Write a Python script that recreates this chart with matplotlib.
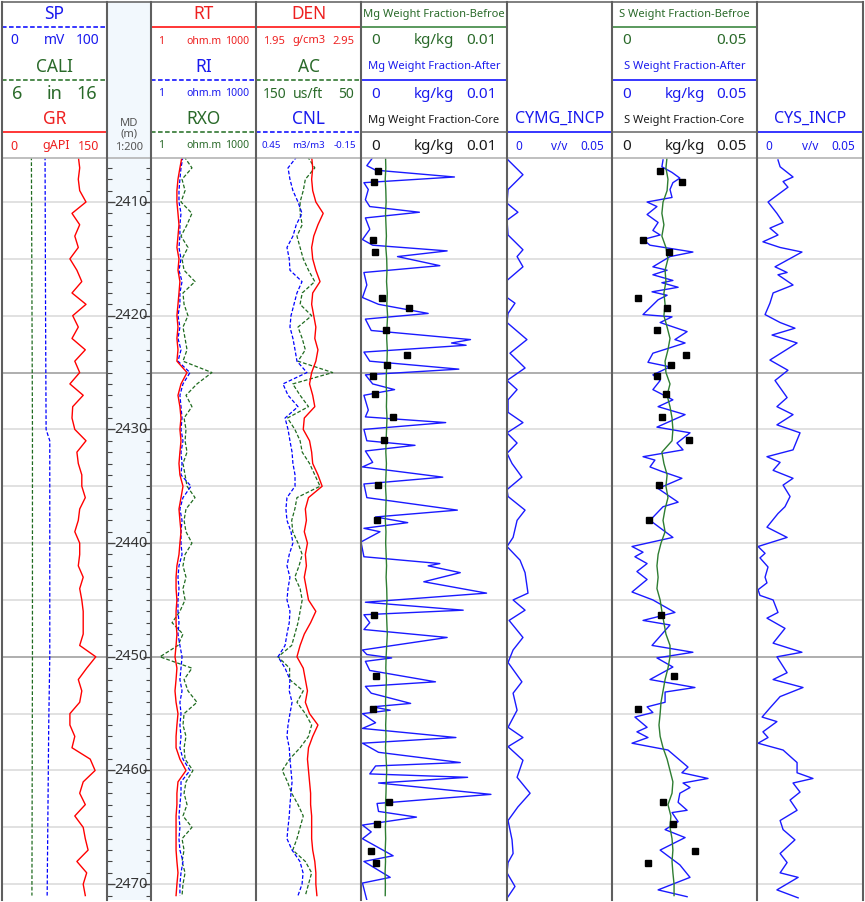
import numpy as np
import matplotlib
matplotlib.use("Agg")
import matplotlib.pyplot as plt
from matplotlib.patches import Rectangle
from matplotlib.ticker import MultipleLocator

plt.rcParams['font.family'] = ['Noto Sans', 'DejaVu Sans']

# ---------------- data (read off the log) ----------------
# 1 m sampled curves
depth_1m = np.arange(2406, 2472)

gr = [109, 111, 109, 111, 120, 100, 111, 104, 109, 97,
      107, 114, 100, 120, 101, 109, 100, 119, 104, 111,
      97, 116, 101, 100, 104, 120, 107, 109, 114, 114,
      119, 111, 109, 104, 111, 111, 109, 116, 111, 114,
      116, 116, 116, 111, 134, 121, 109, 114, 111, 97,
      97, 104, 100, 126, 133, 116, 111, 119, 104, 116,
      119, 123, 107, 121, 116, 119]

rt = [7.7, 6.7, 5.9, 5.5, 5.5, 5.9, 6.3, 5.9, 5.5, 6.3,
      5.9, 6.7, 6.3, 5.9, 5.5, 5.9, 5.5, 5.9, 5.5, 10.7,
      7.2, 5.9, 6.7, 7.2, 6.7, 7.2, 6.7, 6.3, 6.7, 8.2,
      7.2, 6.3, 6.7, 7.2, 6.7, 6.3, 5.5, 5.2, 5.2, 5.5,
      5.2, 5.2, 5.5, 5.2, 4.85, 5.5, 5.2, 4.85, 5.2, 5.9,
      5.5, 5.2, 5.2, 6.7, 10.0, 5.9, 5.5, 5.5, 5.2, 5.2,
      5.2, 5.2, 5.5, 5.9, 5.5, 5.2]

ri = [8.2, 7.2, 6.7, 6.3, 6.3, 7.2, 6.7, 6.7, 6.3, 7.2,
      6.3, 7.7, 6.7, 6.7, 5.9, 6.7, 5.9, 7.2, 5.9, 13.0,
      8.2, 6.7, 7.2, 7.7, 7.2, 8.2, 7.2, 7.7, 7.2, 13.9,
      8.2, 6.7, 7.7, 7.2, 7.2, 7.7, 6.3, 5.9, 6.3, 5.9,
      5.9, 6.3, 5.9, 6.7, 7.7, 7.2, 6.7, 7.7, 6.7, 7.2,
      6.7, 7.2, 6.7, 8.2, 13.0, 7.2, 7.2, 6.7, 6.3, 6.7,
      6.3, 6.7, 8.2, 7.2, 6.7, 6.7]

rxo = [8.8, 14.8, 7.7, 9.4, 7.2, 14.8, 10.7, 7.2, 11.4, 7.7,
       8.8, 18.1, 8.2, 8.8, 11.4, 8.2, 9.4, 10.7, 8.2, 55,
       20.6, 10, 14.8, 8.8, 10, 9.4, 10.7, 8.2, 9.4, 10.7,
       18.1, 10, 8.8, 10, 14.8, 9.4, 8.2, 10, 8.2, 9.4,
       6.7, 4.0, 8.2, 5.9, 1.8, 14.8, 8.8, 11.4, 20.6, 8.8,
       8.2, 10, 8.8, 9.4, 15.8, 10, 8.8, 10.7, 8.2, 14.8,
       7.7, 8.8, 7.7, 9.4, 8.2, 7.7]

den = [2.48, 2.49, 2.48, 2.49, 2.52, 2.59, 2.54, 2.50, 2.48, 2.49,
       2.52, 2.56, 2.49, 2.48, 2.50, 2.52, 2.51, 2.54, 2.52, 2.48,
       2.46, 2.49, 2.51, 2.41, 2.40, 2.46, 2.48, 2.49, 2.54, 2.58,
       2.45, 2.42, 2.43, 2.41, 2.44, 2.42, 2.43, 2.41, 2.43, 2.45,
       2.52, 2.47, 2.41, 2.37, 2.34, 2.40, 2.42, 2.44, 2.42, 2.46,
       2.54, 2.49, 2.45, 2.44, 2.45, 2.46, 2.47, 2.47, 2.48, 2.48,
       2.48, 2.49, 2.51, 2.52, 2.52, 2.53]

ac = [101, 94, 103, 105, 108, 108, 106, 111, 108, 105,
      100, 94, 106, 108, 97, 110, 106, 103, 110, 77,
      115, 108, 100, 120, 113, 108, 106, 99, 94, 89,
      111, 113, 116, 115, 110, 106, 109, 113, 108, 106,
      108, 110, 113, 116, 129, 118, 118, 105, 111, 103,
      97, 100, 108, 118, 125, 120, 116, 110, 105, 108,
      111, 115, 103, 97, 100, 103]

cnl = [0.216, 0.267, 0.256, 0.239, 0.21, 0.187, 0.22, 0.239, 0.273, 0.26,
       0.256, 0.187, 0.216, 0.233, 0.25, 0.256, 0.239, 0.227, 0.216, 0.159,
       0.296, 0.267, 0.21, 0.284, 0.267, 0.256, 0.244, 0.239, 0.227, 0.227,
       0.273, 0.279, 0.273, 0.25, 0.239, 0.26, 0.273, 0.256, 0.267, 0.273,
       0.256, 0.26, 0.273, 0.284, 0.324, 0.284, 0.256, 0.26, 0.244, 0.256,
       0.267, 0.273, 0.26, 0.256, 0.25, 0.244, 0.25, 0.256, 0.26, 0.267,
       0.273, 0.244, 0.199, 0.181, 0.187, 0.21]

mg_before = [0.00168, 0.00170, 0.00166, 0.00170, 0.00172, 0.00168, 0.00171, 0.00174, 0.00170, 0.00176,
             0.00178, 0.00175, 0.00180, 0.00177, 0.00182, 0.00178, 0.00176, 0.00180, 0.00178, 0.00174,
             0.00172, 0.00176, 0.00174, 0.00178, 0.00175, 0.00172, 0.00170, 0.00174, 0.00171, 0.00168,
             0.00172, 0.00170, 0.00167, 0.00171, 0.00169, 0.00172, 0.00175, 0.00172, 0.00176, 0.00178,
             0.00174, 0.00177, 0.00180, 0.00176, 0.00172, 0.00170, 0.00174, 0.00171, 0.00168, 0.00172,
             0.00169, 0.00171, 0.00168, 0.00172, 0.00176, 0.00173, 0.00171, 0.00168, 0.00170, 0.00167,
             0.00169, 0.00166, 0.00168, 0.00165, 0.00167, 0.00166]

s_before = [0.0190, 0.0186, 0.0193, 0.0190, 0.0176, 0.0172, 0.0179, 0.0172, 0.0186, 0.0193,
            0.0183, 0.0186, 0.0179, 0.0183, 0.0179, 0.0190, 0.0200, 0.0193, 0.0183, 0.0186,
            0.0200, 0.0190, 0.0200, 0.0207, 0.0210, 0.0207, 0.0172, 0.0179, 0.0190, 0.0186,
            0.0193, 0.0183, 0.0176, 0.0183, 0.0169, 0.0159, 0.0155, 0.0159, 0.0155, 0.0166,
            0.0172, 0.0179, 0.0186, 0.0200, 0.0200, 0.0193, 0.0183, 0.0176, 0.0169, 0.0166,
            0.0162, 0.0166, 0.0176, 0.0190, 0.0200, 0.0210, 0.0207, 0.0193, 0.0203, 0.0200,
            0.0207, 0.0210, 0.0207, 0.0210, 0.0214, 0.0214]

# slow curves
sp_depth = [2406, 2420, 2430, 2431, 2440, 2450, 2456, 2471]
sp = [41, 41.5, 42, 45.5, 45.5, 45.5, 44.5, 43]
cali_depth = [2406, 2430, 2450, 2471]
cali = [8.8, 8.9, 8.9, 8.85]

# spiky curves, irregular depths
mg_after_depth = [2406.1, 2406.8, 2407.2, 2407.8, 2408.3, 2408.9, 2409.8, 2410.4, 2410.9, 2411.4,
                  2412.4, 2413.3, 2413.8, 2414.3, 2414.8, 2415.6, 2416.2, 2417.3, 2418.4, 2419.0,
                  2419.8, 2420.3, 2421.3, 2422.1, 2422.4, 2422.6, 2423.2, 2424.0, 2424.7, 2425.2,
                  2426.0, 2426.5, 2427.0, 2428.3, 2428.9, 2429.4, 2430.0, 2431.0, 2431.4, 2431.9,
                  2432.9, 2433.3, 2434.2, 2434.8, 2436.0, 2437.1, 2437.7, 2438.2, 2438.7, 2439.0,
                  2439.9, 2441.2, 2441.8, 2442.0, 2442.6, 2443.4, 2444.4, 2445.2, 2445.9, 2446.3,
                  2447.0, 2447.6, 2448.3, 2449.4, 2449.8, 2450.1, 2450.4, 2451.2, 2452.2, 2452.6,
                  2453.2, 2454.1, 2454.4, 2454.7, 2455.0, 2455.8, 2456.3, 2457.1, 2457.6, 2458.4,
                  2459.3, 2459.6, 2460.3, 2460.6, 2461.1, 2462.1, 2462.9, 2463.6, 2464.1, 2464.8,
                  2465.4, 2466.0, 2467.5, 2468.0, 2469.4, 2469.9, 2471.4]
mg_after = [0.0008, 0.0004, 0.0010, 0.0064, 0.0002, 0.0005, 0.0003, 0.0006, 0.0040, 0.0003,
            0.0006, 0.0001, 0.0008, 0.0059, 0.0025, 0.0054, 0.0002, 0.0004, 0.0001, 0.0012,
            0.0046, 0.0003, 0.0007, 0.0075, 0.0062, 0.0072, 0.0002, 0.0006, 0.0067, 0.0003,
            0.0008, 0.0023, 0.0002, 0.0005, 0.0003, 0.0058, 0.0002, 0.0004, 0.0037, 0.0003,
            0.0008, 0.0001, 0.0056, 0.0002, 0.0004, 0.0066, 0.0010, 0.0032, 0.0002, 0.0013,
            0.0000, 0.0002, 0.0054, 0.0046, 0.0068, 0.0043, 0.0086, 0.0003, 0.0070, 0.0002,
            0.0006, 0.0002, 0.0059, 0.0001, 0.0004, 0.0021, 0.0003, 0.0006, 0.0051, 0.0003,
            0.0007, 0.0034, 0.0008, 0.0020, 0.0001, 0.0010, 0.0001, 0.0065, 0.0001, 0.0012,
            0.0068, 0.0010, 0.0006, 0.0073, 0.0012, 0.0089, 0.0011, 0.0012, 0.0038, 0.0001,
            0.0007, 0.0001, 0.0022, 0.0002, 0.0020, 0.0001, 0.0004]

s_after_depth = [2406.3, 2406.9, 2407.4, 2407.9, 2408.3, 2408.9, 2409.6, 2410.0, 2410.4, 2411.1,
                 2411.8, 2412.5, 2412.9, 2413.3, 2413.8, 2414.4, 2414.8, 2415.7, 2416.0, 2416.4,
                 2416.9, 2417.1, 2417.5, 2417.9, 2418.2, 2418.6, 2419.9, 2420.1, 2420.6, 2421.4,
                 2422.1, 2422.4, 2423.3, 2424.1, 2424.5, 2425.2, 2425.7, 2426.5, 2427.4, 2428.0,
                 2428.7, 2429.8, 2430.3, 2431.2, 2431.8, 2432.4, 2432.7, 2433.3, 2433.7, 2434.3,
                 2435.2, 2436.4, 2436.8, 2438.0, 2439.5, 2440.3, 2440.8, 2441.2, 2441.8, 2442.5,
                 2443.2, 2444.3, 2445.0, 2446.1, 2446.8, 2447.2, 2449.0, 2449.6, 2450.1, 2450.9,
                 2452.0, 2452.7, 2453.1, 2454.0, 2454.4, 2454.9, 2455.3, 2456.2, 2456.6, 2457.1,
                 2457.6, 2458.2, 2459.7, 2460.2, 2460.7, 2461.1, 2461.5, 2462.0, 2462.8, 2463.5,
                 2463.7, 2464.5, 2465.2, 2465.9, 2467.0, 2468.3, 2469.4, 2470.5, 2471.1]
s_after = [0.0176, 0.0172, 0.0207, 0.0234, 0.0210, 0.0200, 0.0207, 0.0121, 0.0155, 0.0121,
           0.0159, 0.0141, 0.0166, 0.0107, 0.0131, 0.0279, 0.0200, 0.0141, 0.0190, 0.0141,
           0.0210, 0.0172, 0.0228, 0.0138, 0.0190, 0.0159, 0.0107, 0.0207, 0.0166, 0.0259,
           0.0217, 0.0252, 0.0141, 0.0124, 0.0200, 0.0141, 0.0166, 0.0141, 0.0210, 0.0159,
           0.0252, 0.0155, 0.0269, 0.0224, 0.0245, 0.0107, 0.0148, 0.0131, 0.0172, 0.0241,
           0.0159, 0.0228, 0.0176, 0.0131, 0.0210, 0.0069, 0.0107, 0.0079, 0.0121, 0.0086,
           0.0121, 0.0069, 0.0141, 0.0217, 0.0107, 0.0200, 0.0138, 0.0279, 0.0155, 0.0210,
           0.0131, 0.0286, 0.0183, 0.0183, 0.0121, 0.0141, 0.0079, 0.0121, 0.0086, 0.0124,
           0.0069, 0.0193, 0.0262, 0.0241, 0.0331, 0.0245, 0.0269, 0.0234, 0.0228, 0.0259,
           0.0207, 0.0228, 0.0183, 0.0252, 0.0166, 0.0234, 0.0269, 0.0159, 0.0259]

cymg_depth = [2406.3, 2407.6, 2408.9, 2410.1, 2410.9, 2411.6, 2412.9, 2414.2, 2414.8, 2415.7,
              2416.9, 2418.4, 2418.9, 2419.8, 2420.6, 2422.1, 2423.3, 2424.6, 2425.7, 2426.5,
              2427.4, 2428.5, 2429.4, 2430.3, 2431.2, 2432.1, 2433.0, 2434.2, 2435.3, 2435.9,
              2437.1, 2438.0, 2439.5, 2440.3, 2441.5, 2442.6, 2444.4, 2445.0, 2445.9, 2446.8,
              2448.3, 2449.4, 2450.5, 2452.2, 2453.2, 2454.7, 2456.2, 2457.1, 2457.9, 2459.1,
              2460.6, 2462.0, 2463.2, 2464.4, 2466.1, 2467.3, 2468.1, 2469.0, 2470.2, 2471.1]
cymg = [0.0005, 0.0076, 0.0005, 0.0000, 0.0052, 0.0000, 0.0005, 0.0076, 0.0048, 0.0076,
        0.0000, 0.0000, 0.0038, 0.0005, 0.0000, 0.0095, 0.0014, 0.0086, 0.0000, 0.0048,
        0.0005, 0.0005, 0.0076, 0.0000, 0.0048, 0.0000, 0.0024, 0.0071, 0.0000, 0.0005,
        0.0086, 0.0048, 0.0029, 0.0000, 0.0062, 0.0086, 0.0100, 0.0029, 0.0086, 0.0010,
        0.0076, 0.0029, 0.0005, 0.0071, 0.0029, 0.0048, 0.0005, 0.0076, 0.0005, 0.0076,
        0.0048, 0.0110, 0.0052, 0.0005, 0.0024, 0.0029, 0.0005, 0.0000, 0.0038, 0.0005]

cys_depth = [2406.3, 2406.9, 2407.8, 2408.2, 2408.7, 2410.0, 2411.0, 2411.8, 2412.3, 2412.9,
             2413.5, 2414.0, 2414.4, 2415.7, 2416.2, 2416.4, 2417.3, 2418.0, 2418.9, 2419.9,
             2420.6, 2421.1, 2421.7, 2422.4, 2423.9, 2424.8, 2425.7, 2427.2, 2428.0, 2428.7,
             2429.6, 2430.3, 2431.8, 2432.4, 2432.9, 2433.6, 2434.3, 2434.9, 2435.9, 2436.8,
             2437.4, 2438.6, 2439.5, 2440.3, 2440.9, 2441.3, 2442.1, 2443.0, 2443.5, 2444.1,
             2444.6, 2445.0, 2446.1, 2446.6, 2447.5, 2448.8, 2449.6, 2450.0, 2451.4, 2452.0,
             2452.7, 2453.5, 2454.5, 2455.3, 2455.7, 2456.6, 2457.1, 2457.6, 2458.2, 2459.3,
             2460.2, 2460.7, 2461.1, 2461.9, 2462.6, 2463.5, 2464.4, 2465.2, 2466.1, 2467.3,
             2468.1, 2469.0, 2469.4, 2470.5, 2471.2]
cys = [0.0099, 0.0109, 0.0170, 0.0123, 0.0146, 0.0052, 0.0094, 0.0123, 0.0061, 0.0099,
       0.0028, 0.0109, 0.0212, 0.0085, 0.0142, 0.0099, 0.0170, 0.0076, 0.0061, 0.0038,
       0.0109, 0.0179, 0.0071, 0.0189, 0.0061, 0.0146, 0.0085, 0.0142, 0.0094, 0.0170,
       0.0094, 0.0203, 0.0170, 0.0047, 0.0109, 0.0076, 0.0170, 0.0123, 0.0156, 0.0132,
       0.0099, 0.0047, 0.0142, 0.0005, 0.0038, 0.0014, 0.0052, 0.0038, 0.0047, 0.0005,
       0.0014, 0.0076, 0.0099, 0.0047, 0.0132, 0.0076, 0.0212, 0.0094, 0.0142, 0.0076,
       0.0217, 0.0109, 0.0061, 0.0024, 0.0094, 0.0028, 0.0052, 0.0005, 0.0123, 0.0189,
       0.0189, 0.0264, 0.0170, 0.0203, 0.0156, 0.0189, 0.0109, 0.0123, 0.0179, 0.0109,
       0.0142, 0.0109, 0.0194, 0.0094, 0.0194]

# core samples
core_depth = [2407.3, 2408.2, 2413.3, 2414.4, 2418.4, 2419.3, 2421.3, 2423.5, 2424.3, 2425.3, 2426.9,
              2428.9, 2430.9, 2434.9, 2438.0, 2446.3, 2451.7, 2454.6, 2462.8, 2464.7, 2467.1, 2468.1]
mg_core = [0.00116, 0.00089, 0.00082, 0.00096, 0.00144, 0.00329, 0.00171, 0.00315, 0.00178, 0.00082, 0.00096,
           0.00219, 0.00158, 0.00116, 0.00110, 0.00089, 0.00103, 0.00082, 0.00192, 0.00110, 0.00068, 0.00103]
s_core = [0.0166, 0.0241, 0.0107, 0.0197, 0.0090, 0.0190, 0.0155, 0.0255, 0.0203, 0.0155, 0.0186,
          0.0172, 0.0266, 0.0162, 0.0128, 0.0169, 0.0214, 0.0090, 0.0176, 0.0210, 0.0286, 0.0124]

depth_labels = [2410, 2420, 2430, 2440, 2450, 2460, 2470]

# ---------------- layout ----------------
W, H = 865, 902
TOP, BOT = 158, 900
D_TOP, D_BOT = 2406.13, 2471.39

RED = '#ff0000'
BLUE = '#0000ff'
GREEN = '#1f6b1f'
GREEN2 = '#2e7d32'
TRED = '#ee2020'
TBLUE = '#1a1aee'
TGREEN = '#2a6a2a'
DASH = (0, (3, 1.6))

fig = plt.figure(figsize=(W / 100, H / 100), dpi=100)


def rect(x0, x1):
    return [x0 / W, (H - BOT) / H, (x1 - x0) / W, (BOT - TOP) / H]


def track(x0, x1):
    ax = fig.add_axes(rect(x0, x1))
    ax.set_ylim(D_BOT, D_TOP)
    ax.set_xticks([])
    ax.set_yticks([])
    for s in ax.spines.values():
        s.set_visible(False)
    for d in range(2410, 2471, 5):
        ax.axhline(d, color='#a8a8a8' if d % 25 == 0 else '#dedede', lw=1.3, zorder=0)
    return ax


def curve(base, lo, hi, log=False):
    ax = base.twiny()
    if log:
        ax.set_xscale('log')
    ax.set_xlim(lo, hi)
    ax.set_ylim(D_BOT, D_TOP)
    ax.axis('off')
    return ax


# track 1: SP / CALI / GR
t1 = track(2, 107)
curve(t1, 0, 100).plot(sp, sp_depth, color=BLUE, lw=0.9, ls=DASH)
curve(t1, 6, 16).plot(cali, cali_depth, color=GREEN, lw=0.9, ls=DASH)
curve(t1, 0, 150).plot(gr, depth_1m, color=RED, lw=1.0)

# depth track
axd = fig.add_axes(rect(107, 151))
axd.set_facecolor('#f2f8fd')
axd.set_ylim(D_BOT, D_TOP)
axd.set_xticks([])
axd.yaxis.set_major_locator(MultipleLocator(10))
axd.yaxis.set_minor_locator(MultipleLocator(1))
axd.tick_params(axis='y', which='both', direction='in', left=True, right=True,
                labelleft=False, color='#444444')
axd.tick_params(axis='y', which='major', length=6, width=1)
axd.tick_params(axis='y', which='minor', length=3.5, width=0.8)
for s in axd.spines.values():
    s.set_visible(False)
for d in depth_labels:
    axd.text(0.55, d, str(d), transform=axd.get_yaxis_transform(), ha='center',
             va='center', fontsize=10.5, color='#333333')

# track 3: resistivity
t3 = track(151, 256)
curve(t3, 1, 1000, log=True).plot(rxo, depth_1m, color=GREEN, lw=0.9, ls=DASH)
curve(t3, 1, 1000, log=True).plot(ri, depth_1m, color=BLUE, lw=0.9, ls=DASH)
curve(t3, 1, 1000, log=True).plot(rt, depth_1m, color=RED, lw=1.0)

# track 4: porosity
t4 = track(256, 361)
curve(t4, 150, 50).plot(ac, depth_1m, color=GREEN, lw=0.9, ls=DASH)
curve(t4, 0.45, -0.15).plot(cnl, depth_1m, color=BLUE, lw=0.9, ls=DASH)
curve(t4, 1.95, 2.95).plot(den, depth_1m, color=RED, lw=1.0)

# track 5: Mg
t5 = track(361, 507)
c = curve(t5, 0, 0.01)
c.plot(mg_after, mg_after_depth, color='#1a1aff', lw=1.0)
c.plot(mg_before, depth_1m, color=GREEN2, lw=1.0)
c.plot(mg_core, core_depth, ls='none', marker='s', ms=5, color='black')

# track 6: CYMG_INCP
t6 = track(507, 612)
curve(t6, 0, 0.05).plot(cymg, cymg_depth, color='#1a1aff', lw=1.0)

# track 7: S
t7 = track(612, 757)
c = curve(t7, 0, 0.05)
c.plot(s_after, s_after_depth, color='#1a1aff', lw=1.0)
c.plot(s_before, depth_1m, color=GREEN2, lw=1.0)
c.plot(s_core, core_depth, ls='none', marker='s', ms=5, color='black')

# track 8: CYS_INCP
t8 = track(757, 863)
curve(t8, 0, 0.05).plot(cys, cys_depth, color='#1a1aff', lw=1.0)

# ---------------- header overlay ----------------
ov = fig.add_axes([0, 0, 1, 1], zorder=20)
ov.set_xlim(0, W)
ov.set_ylim(H, 0)
ov.axis('off')

ov.add_patch(Rectangle((107, 2), 44, TOP - 2, fc='#f2f8fd', ec='none', zorder=0))


def txt(x, y, s, color, size, ha='center'):
    ov.text(x, y, s, color=color, fontsize=size, ha=ha, va='center')


def hl(x0, x1, y, color, ls='-'):
    ov.plot([x0, x1], [y, y], color=color, lw=1.1, ls=ls)


def scale(x0, x1, y, lo, unit, hi, color, size, pad=8, ucx=None):
    txt(x0 + pad, y, lo, color, size, ha='left')
    if unit:
        txt(ucx if ucx else (x0 + x1) / 2, y, unit, color, size)
    txt(x1 - pad, y, hi, color, size, ha='right')


# track 1 header
txt(54.5, 14, 'SP', TBLUE, 12.5)
hl(2, 107, 27, BLUE, DASH)
scale(2, 107, 41, '0', 'mV', '100', TBLUE, 10)
txt(54.5, 67, 'CALI', TGREEN, 12.5)
hl(2, 107, 80, GREEN, DASH)
scale(2, 107, 94, '6', 'in', '16', TGREEN, 13, pad=10)
txt(54.5, 119, 'GR', TRED, 12.5)
hl(2, 107, 132, RED)
scale(2, 107, 146, '0', 'gAPI', '150', TRED, 9, ucx=56)

# depth header
txt(129, 124, 'MD', '#555555', 8)
txt(129, 134, '(m)', '#555555', 8)
txt(129, 148, '1:200', '#555555', 8)

# track 3 header
txt(203.5, 14, 'RT', TRED, 12.5)
hl(151, 256, 27, RED)
scale(151, 256, 41, '1', 'ohm.m', '1000', TRED, 7.5, pad=7)
txt(203.5, 67, 'RI', TBLUE, 12.5)
hl(151, 256, 80, BLUE, DASH)
scale(151, 256, 94, '1', 'ohm.m', '1000', TBLUE, 7.5, pad=7)
txt(203.5, 119, 'RXO', TGREEN, 12.5)
hl(151, 256, 132, GREEN, DASH)
scale(151, 256, 146, '1', 'ohm.m', '1000', TGREEN, 7.5, pad=7)

# track 4 header
txt(308.5, 14, 'DEN', TRED, 12.5)
hl(256, 361, 27, RED)
scale(256, 361, 41, '1.95', 'g/cm3', '2.95', TRED, 8, pad=7)
txt(308.5, 67, 'AC', TGREEN, 12.5)
hl(256, 361, 80, GREEN, DASH)
scale(256, 361, 94, '150', 'us/ft', '50', TGREEN, 10, pad=7)
txt(308.5, 119, 'CNL', TBLUE, 12.5)
hl(256, 361, 132, BLUE, DASH)
scale(256, 361, 146, '0.45', 'm3/m3', '-0.15', TBLUE, 7, pad=5)

# track 5 header
txt(434, 15, 'Mg Weight Fraction-Befroe', TGREEN, 8)
hl(361, 507, 27, GREEN2)
scale(361, 507, 41, '0', 'kg/kg', '0.01', TGREEN, 11, pad=10)
txt(434, 67, 'Mg Weight Fraction-After', TBLUE, 8)
hl(361, 507, 80, BLUE)
scale(361, 507, 94, '0', 'kg/kg', '0.01', TBLUE, 11, pad=10)
txt(434, 120, 'Mg Weight Fraction-Core', '#1a1a1a', 8)
hl(361, 507, 132, '#666666')
scale(361, 507, 146, '0', 'kg/kg', '0.01', '#1a1a1a', 11, pad=10)

# track 6 header
txt(559.5, 119, 'CYMG_INCP', TBLUE, 11.5)
hl(507, 612, 132, BLUE)
scale(507, 612, 146, '0', 'v/v', '0.05', TBLUE, 8.5, pad=8)

# track 7 header
txt(684.5, 15, 'S Weight Fraction-Befroe', TGREEN, 8)
hl(612, 757, 27, GREEN2)
scale(612, 757, 41, '0', '', '0.05', TGREEN, 11, pad=10)
txt(684.5, 67, 'S Weight Fraction-After', TBLUE, 8)
hl(612, 757, 80, BLUE)
scale(612, 757, 94, '0', 'kg/kg', '0.05', TBLUE, 11, pad=10)
txt(684.5, 120, 'S Weight Fraction-Core', '#1a1a1a', 8)
hl(612, 757, 132, '#666666')
scale(612, 757, 146, '0', 'kg/kg', '0.05', '#1a1a1a', 11, pad=10)

# track 8 header
txt(810, 119, 'CYS_INCP', TBLUE, 11.5)
hl(757, 863, 132, BLUE)
scale(757, 863, 146, '0', 'v/v', '0.05', TBLUE, 8.5, pad=8)

# borders
ov.plot([2, 863], [TOP, TOP], color='#b4b4b4', lw=1.2)
ov.plot([2, 863], [2, 2], color='#6a6a6a', lw=1.2)
for x in [2, 107, 151, 256, 361, 507, 612, 757, 863]:
    ov.plot([x, x], [2, BOT], color='#5f5f5f', lw=1.5)

fig.savefig('out.png', dpi=100)
